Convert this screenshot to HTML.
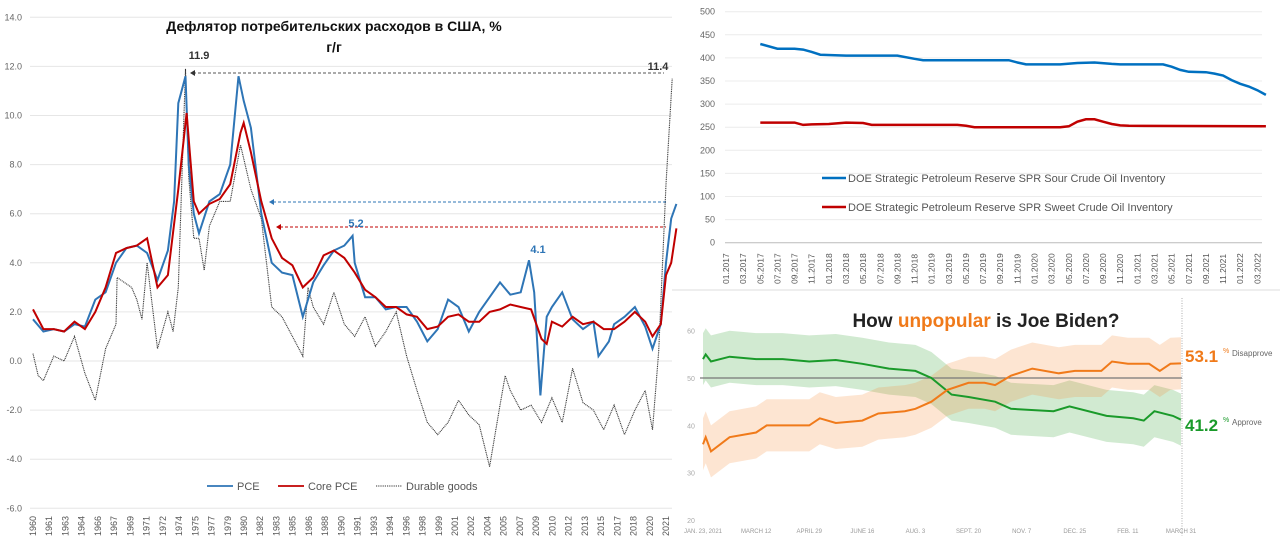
<!DOCTYPE html>
<html><head><meta charset="utf-8">
<style>
html,body{margin:0;padding:0;background:#fff;width:1280px;height:538px;overflow:hidden}
svg{display:block;font-family:"Liberation Sans","DejaVu Sans",sans-serif}
</style></head>
<body>
<svg id="root" width="1280" height="538" viewBox="0 0 1280 538">
  <line x1="672" y1="290" x2="1280" y2="290" stroke="#ddd" stroke-width="1"/>
  <g id="pce"></g>
  <g id="spr"></g>
  <g id="biden"></g>
</svg>
<script>
// ===== Left chart data: PCE deflator, % y/y =====
const pceYears = [1960,1961,1962,1963,1964,1965,1966,1967,1968,1969,1970,1971,1972,1973,1973.6,1974,1974.7,1975,1975.5,1976,1977,1978,1979,1979.8,1980.3,1981,1982,1983,1984,1985,1986,1987,1988,1989,1990,1990.8,1991,1992,1993,1994,1995,1996,1997,1998,1999,2000,2001,2002,2003,2004,2005,2006,2007,2007.8,2008.3,2008.9,2009.5,2010,2011,2012,2013,2014,2014.5,2015.5,2016,2017,2018,2019,2019.7,2020.5,2021,2021.5,2022];
const pceValues = [1.7,1.2,1.3,1.2,1.5,1.4,2.5,2.8,4.0,4.6,4.7,4.4,3.3,4.5,6.5,10.5,11.6,8.0,6.0,5.2,6.5,6.8,8.0,11.6,10.6,9.5,6.0,4.0,3.6,3.5,1.8,3.2,3.9,4.5,4.7,5.1,4.0,2.6,2.6,2.1,2.2,2.2,1.6,0.8,1.3,2.5,2.2,1.2,2.0,2.6,3.2,2.7,2.8,4.1,2.8,-1.4,1.8,2.2,2.8,1.7,1.3,1.6,0.2,0.8,1.5,1.8,2.2,1.4,0.5,1.5,4.0,5.8,6.4];
const coreYears = [1960,1961,1962,1963,1964,1965,1966,1967,1968,1969,1970,1971,1972,1973,1974,1974.8,1975.5,1976,1977,1978,1979,1980,1980.3,1981,1982,1983,1984,1985,1986,1987,1988,1989,1990,1991,1992,1993,1994,1995,1996,1997,1998,1999,2000,2001,2002,2003,2004,2005,2006,2007,2008,2009,2009.5,2010,2011,2012,2013,2014,2015,2016,2017,2018,2019,2019.7,2020.5,2021,2021.5,2022];
const coreValues = [2.1,1.3,1.3,1.2,1.6,1.3,2.0,3.0,4.4,4.6,4.7,5.0,3.0,3.5,7.0,10.1,6.5,6.0,6.4,6.6,7.2,9.3,9.7,8.5,6.5,5.0,4.2,3.9,3.0,3.4,4.3,4.5,4.2,3.6,2.9,2.6,2.2,2.2,1.9,1.8,1.3,1.4,1.8,1.9,1.6,1.6,2.0,2.1,2.3,2.2,2.1,0.9,0.7,1.6,1.4,1.8,1.5,1.6,1.3,1.3,1.6,2.0,1.6,1.0,1.5,3.5,4.0,5.4];
const durYears = [1960,1960.5,1961,1962,1963,1964,1965,1966,1967,1968,1968.1,1969.5,1970,1970.5,1971,1972,1973,1973.5,1974,1974.7,1975,1975.5,1976,1976.5,1977,1978,1979,1980,1981,1982,1983,1984,1985,1986,1986.5,1987,1988,1989,1990,1991,1992,1993,1994,1995,1996,1997,1998,1999,2000,2001,2002,2003,2004,2005,2005.5,2006,2007,2008,2009,2010,2011,2012,2013,2014,2015,2016,2017,2018,2019,2019.7,2020.3,2021,2021.6];
const durValues = [0.3,-0.6,-0.8,0.2,0.0,1.0,-0.5,-1.6,0.5,1.5,3.4,3.0,2.5,1.7,4.0,0.5,2.0,1.2,3.0,11.9,7.5,5.0,5.0,3.7,5.5,6.5,6.5,8.8,7.0,5.8,2.2,1.8,1.0,0.2,3.0,2.2,1.5,2.8,1.5,1.0,1.8,0.6,1.2,2.0,0.2,-1.2,-2.5,-3.0,-2.5,-1.6,-2.2,-2.6,-4.3,-1.8,-0.6,-1.2,-2.0,-1.8,-2.5,-1.5,-2.5,-0.3,-1.7,-2.0,-2.8,-1.8,-3.0,-2.0,-1.2,-2.8,0.4,7.2,11.5];
const pceYTicks = [14,12,10,8,6,4,2,0,-2,-4,-6];
const pceXLabels = ["1960","1961","1963","1964","1966","1967","1969","1971","1972","1974","1975","1977","1979","1980","1982","1983","1985","1986","1988","1990","1991","1993","1994","1996","1998","1999","2001","2002","2004","2005","2007","2009","2010","2012","2013","2015","2017","2018","2020","2021"];

// ===== Top-right chart data: SPR inventory (month index from 01.2017) =====
const sprSourMonths = [4,6,8,9,10,11,14,20,22,23,24,33,34,35,39,41,43,45,46,51,52,53,54,56,57,58,59,60,61,62,63];
const sprSourValues = [430,420,420,418,413,407,405,405,398,395,395,395,390,386,386,389,390,387,386,386,381,374,370,369,366,362,352,344,338,330,320];
const sprSweetMonths = [4,8,9,10,12,14,16,17,27,28,29,39,40,41,42,43,44,45,46,47,63];
const sprSweetValues = [260,260,255,256,257,260,259,255,255,253,250,250,252,262,267,267,262,257,254,253,252];
const sprYTicks = [500,450,400,350,300,250,200,150,100,50,0];
const sprXLabels = ["01.2017","03.2017","05.2017","07.2017","09.2017","11.2017","01.2018","03.2018","05.2018","07.2018","09.2018","11.2018","01.2019","03.2019","05.2019","07.2019","09.2019","11.2019","01.2020","03.2020","05.2020","07.2020","09.2020","11.2020","01.2021","03.2021","05.2021","07.2021","09.2021","11.2021","01.2022","03.2022"];

// ===== Bottom-right chart data: Biden approval (x in 48-day label steps) =====
const approveT = [0,0.05,0.15,0.5,1,1.5,2,2.5,3,3.5,4,4.3,4.68,5,5.5,5.8,6.6,6.9,7.6,8.1,8.3,8.5,8.85,9];
const approveV = [54,55,53.5,54.5,54,54,53.5,53.8,53,52,51.5,50,46.5,46,45,43.5,43,44,42,41.5,41,43,42,41.2];
const disapproveT = [0,0.05,0.15,0.5,1,1.2,2,2.2,2.5,3,3.3,3.8,4,4.3,4.6,5,5.3,5.5,5.8,6.2,6.7,7,7.5,7.7,8,8.4,8.6,8.8,9];
const disapproveV = [36,37.5,34.5,37.5,38.5,40,40,41.5,40.5,41,42.5,43,43.5,45,47.5,49,49,48.5,50.5,52,51,51.5,51.5,53.5,53,53,51.5,53,53.1];
const bidenYTicks = [60,50,40,30,20];
const bidenXLabels = ["JAN. 23, 2021","MARCH 12","APRIL 29","JUNE 16","AUG. 3","SEPT. 20","NOV. 7","DEC. 25","FEB. 11","MARCH 31"];

const NS = "http://www.w3.org/2000/svg";
function mk(parent, tag, attrs, text) {
  const e = document.createElementNS(NS, tag);
  for (const k in attrs) e.setAttribute(k, attrs[k]);
  if (text !== undefined) e.textContent = text;
  parent.appendChild(e);
  return e;
}
function pathFrom(xs, ys, fx, fy) {
  return xs.map((x, i) => (i ? "L" : "M") + fx(x).toFixed(1) + "," + fy(ys[i]).toFixed(1)).join("");
}

// ---------- Left chart ----------
(function () {
  const g = document.getElementById("pce");
  const x = yr => 33 + (yr - 1960) * (666 - 33) / 61;
  const y = v => 361 - v * 24.55;
  pceYTicks.forEach(t => {
    const gl = mk(g, "line", {x1: 30, x2: 672, y1: y(t), y2: y(t), stroke: "#e6e6e6", "stroke-width": 1});
    
    
    const tl = mk(g, "text", {x: 22, y: y(t) + 3, "text-anchor": "end", "font-size": 9, fill: "#666"}, t.toFixed(1));
    
    
  });
  const n = pceXLabels.length;
  pceXLabels.forEach((lab, i) => {
    const xx = 33 + i * (666 - 33) / (n - 1);
    const tl = mk(g, "text", {transform: `translate(${xx + 3},536) rotate(-90)`, "font-size": 9, fill: "#555"}, lab);
    
    
  });
  const dur = mk(g, "path", {d: pathFrom(durYears, durValues, x, y), fill: "none", stroke: "#333", "stroke-width": 1.1, "stroke-dasharray": "1,0.8"});
  
  
  const pce = mk(g, "path", {d: pathFrom(pceYears, pceValues, x, y), fill: "none", stroke: "#2e75b6", "stroke-width": 2});
  
  
  const core = mk(g, "path", {d: pathFrom(coreYears, coreValues, x, y), fill: "none", stroke: "#c00000", "stroke-width": 2});
  
  
  const a1 = mk(g, "line", {x1: 193, x2: 664, y1: 73, y2: 73, stroke: "#555", "stroke-width": 1, "stroke-dasharray": "3,2"});
  
  
  mk(g, "path", {d: "M190,73 l5,-3 v6 z", fill: "#333"});
  const a2 = mk(g, "line", {x1: 273, x2: 666, y1: 202, y2: 202, stroke: "#2e75b6", "stroke-width": 1, "stroke-dasharray": "3,2"});
  
  
  mk(g, "path", {d: "M269,202 l5,-3 v6 z", fill: "#2e75b6"});
  const a3 = mk(g, "line", {x1: 280, x2: 666, y1: 227, y2: 227, stroke: "#c00000", "stroke-width": 1, "stroke-dasharray": "3,2"});
  
  
  mk(g, "path", {d: "M276,227 l5,-3 v6 z", fill: "#c00000"});
  const anns = [["11.9", 199, 59, "#333", "annotation-11-9"], ["11.4", 658, 70, "#333", "annotation-11-4"], ["5.2", 356, 227, "#2e75b6", "annotation-5-2"], ["4.1", 538, 253, "#2e75b6", "annotation-4-1"]];
  anns.forEach(a => {
    const t = mk(g, "text", {x: a[1], y: a[2], "text-anchor": "middle", "font-size": 11, "font-weight": "bold", fill: a[3]}, a[0]);
    
    
  });
  const t1 = mk(g, "text", {x: 334, y: 31, "text-anchor": "middle", "font-size": 14, "font-weight": "bold", fill: "#111"}, "Дефлятор потребительских расходов в США, %");
  
  
  const t2 = mk(g, "text", {x: 334, y: 52, "text-anchor": "middle", "font-size": 14, "font-weight": "bold", fill: "#111"}, "г/г");
  
  
  const leg = [["PCE", 207, "#2e75b6", null, "legend-pce"], ["Core PCE", 278, "#c00000", null, "legend-core-pce"], ["Durable goods", 376, "#333", "1.2,1", "legend-durable-goods"]];
  leg.forEach(l => {
    const lg = mk(g, "g", {});
    
    
    const attrs = {x1: l[1], x2: l[1] + 26, y1: 486, y2: 486, stroke: l[2], "stroke-width": l[3] ? 1 : 1.8};
    if (l[3]) attrs["stroke-dasharray"] = l[3];
    mk(lg, "line", attrs);
    mk(lg, "text", {x: l[1] + 30, y: 490, "font-size": 11, fill: "#555"}, l[0]);
  });
})();

// ---------- Top-right chart ----------
(function () {
  const g = document.getElementById("spr");
  const x = m => 726 + m * 8.57;
  const y = v => 242.7 - v * 0.462;
  sprYTicks.forEach(t => {
    const gl = mk(g, "line", {x1: 725, x2: 1262, y1: y(t), y2: y(t), stroke: t === 0 ? "#bbb" : "#ececec", "stroke-width": 1});
    
    
    const tl = mk(g, "text", {x: 715, y: y(t) + 3, "text-anchor": "end", "font-size": 9, fill: "#666"}, t);
    
    
  });
  sprXLabels.forEach((lab, i) => {
    const xx = x(i * 2);
    const tl = mk(g, "text", {transform: `translate(${xx + 3},284) rotate(-90)`, "font-size": 8.5, fill: "#555"}, lab);
    
    
  });
  const sour = mk(g, "path", {d: pathFrom(sprSourMonths, sprSourValues, x, y), fill: "none", stroke: "#0070c0", "stroke-width": 2.5});
  
  
  const sweet = mk(g, "path", {d: pathFrom(sprSweetMonths, sprSweetValues, x, y), fill: "none", stroke: "#c00000", "stroke-width": 2.5});
  
  
  [["DOE Strategic Petroleum Reserve SPR Sour Crude Oil Inventory", 178, "#0070c0", "legend-sour"], ["DOE Strategic Petroleum Reserve SPR Sweet Crude Oil Inventory", 207, "#c00000", "legend-sweet"]].forEach(l => {
    const lg = mk(g, "g", {});
    
    
    mk(lg, "line", {x1: 822, x2: 846, y1: l[1], y2: l[1], stroke: l[2], "stroke-width": 2.5});
    mk(lg, "text", {x: 848, y: l[1] + 4, "font-size": 11, fill: "#555"}, l[0]);
  });
})();

// ---------- Bottom-right chart ----------
(function () {
  const g = document.getElementById("biden");
  const x = t => 703 + t * (1181 - 703) / 9;
  const y = v => 330.7 + (60 - v) * 4.733;
  bidenYTicks.forEach(t => {
    const tl = mk(g, "text", {x: 691, y: y(t) + 3, "text-anchor": "middle", "font-size": 7, fill: "#aaa"}, t);
    
    
  });
  function band(ts, vs, color, name) {
    const up = ts.map((t, i) => x(t).toFixed(1) + "," + y(vs[i] + 5.5).toFixed(1));
    const dn = ts.map((t, i) => x(t).toFixed(1) + "," + y(vs[i] - 5.5).toFixed(1)).reverse();
    const b = mk(g, "path", {d: "M" + up.join("L") + "L" + dn.join("L") + "Z", fill: color, opacity: 0.22});
    
    
  }
  band(approveT, approveV, "#2ca02c", "approve-band");
  band(disapproveT, disapproveV, "#f58a33", "disapprove-band");
  const ref = mk(g, "line", {x1: 700, x2: 1182, y1: y(50), y2: y(50), stroke: "#777", "stroke-width": 1.2});
  
  
  const vl = mk(g, "line", {x1: 1182, x2: 1182, y1: 298, y2: 536, stroke: "#999", "stroke-width": 0.8, "stroke-dasharray": "1,1.5"});
  
  
  const ap = mk(g, "path", {d: pathFrom(approveT, approveV, x, y), fill: "none", stroke: "#1a9a2a", "stroke-width": 2});
  
  
  const dp = mk(g, "path", {d: pathFrom(disapproveT, disapproveV, x, y), fill: "none", stroke: "#f07a1a", "stroke-width": 2});
  
  
  bidenXLabels.forEach((lab, i) => {
    const tl = mk(g, "text", {x: x(i), y: 533, "text-anchor": "middle", "font-size": 6, fill: "#999"}, lab);
    
    
  });
  const title = mk(g, "text", {x: 986, y: 327, "text-anchor": "middle", "font-size": 19, "font-weight": "bold", fill: "#222"});
  
  
  mk(title, "tspan", {}, "How ");
  mk(title, "tspan", {fill: "#f07a1a"}, "unpopular");
  mk(title, "tspan", {}, " is Joe Biden?");
  const d1 = mk(g, "text", {x: 1185, y: 362, "font-size": 17, "font-weight": "bold", fill: "#f07a1a"}, "53.1");
  
  
  mk(g, "text", {x: 1223, y: 353, "font-size": 7, fill: "#f07a1a"}, "%");
  const d2 = mk(g, "text", {x: 1232, y: 356, "font-size": 8, fill: "#666"}, "Disapprove");
  
  
  const a1 = mk(g, "text", {x: 1185, y: 431, "font-size": 17, "font-weight": "bold", fill: "#1a9a2a"}, "41.2");
  
  
  mk(g, "text", {x: 1223, y: 422, "font-size": 7, fill: "#1a9a2a"}, "%");
  const a2 = mk(g, "text", {x: 1232, y: 425, "font-size": 8, fill: "#666"}, "Approve");
  
  
})();
</script>
</body></html>
